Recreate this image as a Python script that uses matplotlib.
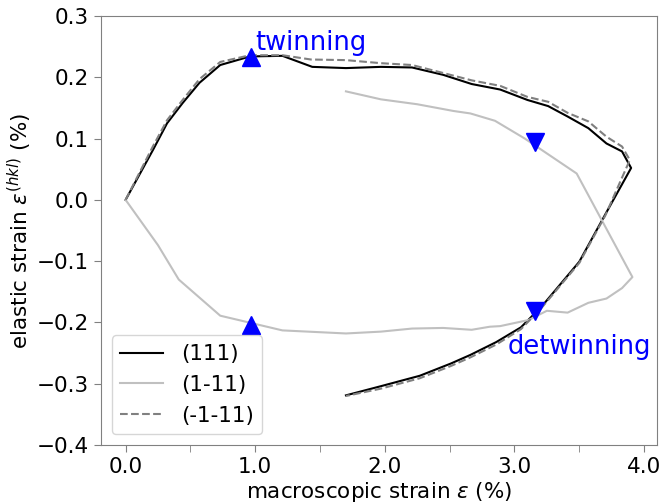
import matplotlib
matplotlib.use('Agg')
import matplotlib.pyplot as plt
import numpy as np

# (111) loading + unloading
x_111 = [0.0, 0.21, 0.32, 0.44, 0.57, 0.73, 0.96, 1.21, 1.44, 1.70, 1.97, 2.21, 2.45, 2.67, 2.89,
         3.10, 3.26, 3.41, 3.57, 3.71, 3.83, 3.90,
         3.70, 3.50, 3.21, 3.05, 2.86, 2.66, 2.51, 2.27, 1.97, 1.70]
y_111 = [0.0, 0.081, 0.125, 0.158, 0.191, 0.220, 0.234, 0.235, 0.217, 0.215, 0.217, 0.216, 0.204, 0.189, 0.180,
         0.163, 0.153, 0.136, 0.117, 0.092, 0.079, 0.052,
         -0.024, -0.101, -0.174, -0.208, -0.232, -0.253, -0.267, -0.287, -0.304, -0.319]

# (1-11)
x_1m11 = [0.0, 0.25, 0.41, 0.73, 1.21, 1.70, 1.97, 2.21, 2.45, 2.67, 2.81, 2.89, 3.11, 3.25, 3.41,
          3.57, 3.71, 3.83, 3.91,
          3.48, 3.08, 2.85, 2.66, 2.53, 2.25, 1.97, 1.70]
y_1m11 = [0.0, -0.074, -0.130, -0.189, -0.213, -0.218, -0.215, -0.210, -0.209, -0.212, -0.207, -0.206, -0.196, -0.181, -0.184,
          -0.168, -0.161, -0.144, -0.126,
          0.043, 0.100, 0.129, 0.141, 0.145, 0.156, 0.164, 0.177]

# (-1-11)
x_m1m11 = [0.0, 0.21, 0.32, 0.44, 0.57, 0.73, 0.96, 1.21, 1.43, 1.70, 1.97, 2.21, 2.45, 2.67, 2.89,
           3.10, 3.26, 3.41, 3.57, 3.71, 3.83, 3.89,
           3.70, 3.50, 3.21, 3.05, 2.86, 2.66, 2.51, 2.27, 1.97, 1.70]
y_m1m11 = [0.0, 0.087, 0.130, 0.163, 0.197, 0.225, 0.236, 0.236, 0.229, 0.228, 0.223, 0.220, 0.207, 0.195, 0.186,
           0.168, 0.160, 0.142, 0.128, 0.103, 0.087, 0.065,
           -0.026, -0.103, -0.176, -0.211, -0.236, -0.257, -0.271, -0.291, -0.308, -0.320]

# markers
twin_x = [0.97, 0.97]
twin_y = [0.233, -0.205]
detwin_x = [3.16, 3.16]
detwin_y = [0.094, -0.181]

fig = plt.figure(figsize=(6.63, 5.03), dpi=100)
ax = fig.add_axes([0.1523, 0.1153, 0.8387, 0.8529])

ax.plot(x_111, y_111, color='black', lw=1.5, label='(111)')
ax.plot(x_1m11, y_1m11, color='silver', lw=1.5, label='(1-11)')
ax.plot(x_m1m11, y_m1m11, color='grey', lw=1.5, ls='--', label='(-1-11)')

ax.plot(twin_x, twin_y, '^', color='blue', ms=13, zorder=3)
ax.plot(detwin_x, detwin_y, 'v', color='blue', ms=13, zorder=3)
ax.text(1.0, 0.245, 'twinning', color='blue', fontsize=18.5)
ax.text(2.95, -0.251, 'detwinning', color='blue', fontsize=18.5)

ax.set_xlim(-0.19, 4.1)
ax.set_ylim(-0.4, 0.3)
ax.set_xticks([0, 1, 2, 3, 4])
ax.set_xticklabels(['%.1f' % v for v in [0, 1, 2, 3, 4]])
ax.set_xticks([0.5, 1.5, 2.5, 3.5], minor=True)
ax.set_yticks(np.round(np.arange(-0.4, 0.31, 0.1), 1))

for s in ax.spines.values():
    s.set_color('grey')
ax.tick_params(which='both', color='grey', length=5, labelsize=15.5)

ax.set_xlabel(r'macroscopic strain $\epsilon$ (%)', fontsize=15.5, labelpad=2)
ax.set_ylabel(r'elastic strain $\epsilon^{(hkl)}$ (%)', fontsize=15.5, labelpad=2)
ax.legend(loc='lower left', fontsize=15.5)

fig.savefig('out.png', dpi=100)
